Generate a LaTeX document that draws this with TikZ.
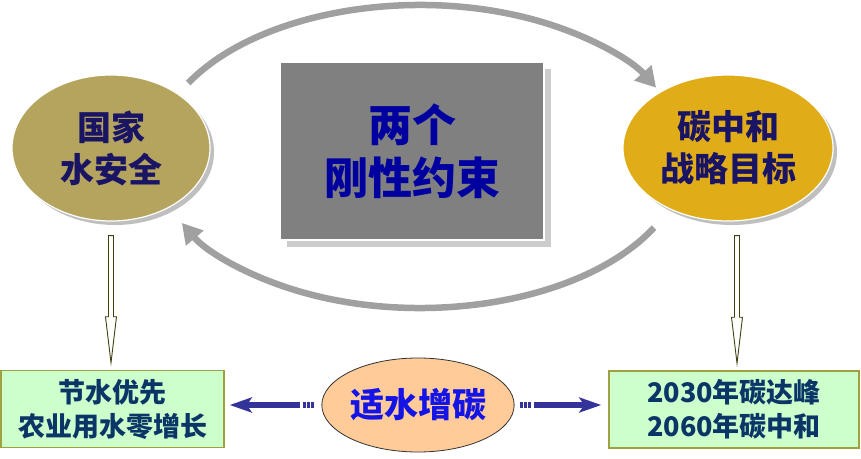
\documentclass[tikz,border=0pt]{standalone}
\usepackage{fontspec}
\setmainfont{Noto Sans CJK SC}
\usetikzlibrary{shapes.geometric,arrows.meta,positioning,calc,shadows}
\definecolor{tanolive}{HTML}{B4A45E}
\definecolor{tangold}{HTML}{E0AC18}
\definecolor{inknavy}{HTML}{1A1464}
\definecolor{inkblue}{HTML}{0000A0}
\definecolor{hubink}{HTML}{1414E6}
\definecolor{boxgreen}{HTML}{CCFFCC}
\definecolor{boxedge}{HTML}{A0A040}
\definecolor{boxink}{HTML}{0B3566}
\definecolor{peach}{HTML}{FFCC99}
\definecolor{arrowblue}{HTML}{333399}
\definecolor{ringgray}{HTML}{A0A0A0}
\definecolor{hollowedge}{HTML}{404010}

\begin{document}
\begin{tikzpicture}[x=1pt, y=1pt,
    goal/.style={ellipse, draw=white, line width=1.2pt, inner sep=0pt,
      minimum height=146pt, text=inknavy, align=center,
      font=\fontsize{34}{42}\selectfont\bfseries,
      drop shadow={shadow xshift=4pt, shadow yshift=-4pt, fill=black!25, opacity=1}},
    core/.style={rectangle, draw=white, line width=1.2pt, fill=black!50,
      minimum width=264pt, minimum height=178pt, text=inkblue, align=center,
      font=\fontsize{44}{53}\selectfont\bfseries,
      drop shadow={shadow xshift=7pt, shadow yshift=-7pt, fill=black!20, opacity=1}},
    target/.style={rectangle, draw=boxedge, line width=1.5pt, fill=boxgreen,
      minimum height=77pt, text=boxink, align=center, inner sep=0pt,
      font=\fontsize{27}{34}\selectfont\bfseries},
    hub/.style={ellipse, draw=black!80, line width=0.8pt, fill=peach,
      minimum width=190pt, minimum height=94pt, text=hubink, inner sep=0pt,
      font=\fontsize{34}{40}\selectfont\bfseries},
    cyc/.style={-{Triangle[length=20pt,width=22pt]}, line width=6.5pt, draw=ringgray},
    side/.style={-{Stealth[length=22pt,width=15pt,inset=5pt]}, line width=6pt, draw=arrowblue,
      dash pattern=on 3pt off 1.2pt on 3pt off 1.2pt on 3pt off 3pt on 400pt off 0pt},
    hollow/.style={draw=hollowedge, fill=white, line width=0.9pt, line join=miter}
  ]
    \useasboundingbox (0,0) rectangle (861,458);

    % ── Two constraints and the core box ─────────────────────
    \node[goal, fill=tanolive, minimum width=198pt] (guo)    at (111,310) {国家\\水安全};
    \node[goal, fill=tangold,  minimum width=210pt] (tan)    at (728,310) {碳中和\\战略目标};
    \node[core]                                     (yueshu) at (412,307) {两个\\刚性约束};

    % ── Bottom row ───────────────────────────────────────────
    \node[hub]                          (shi)     at (418,53)   {适水增碳};
    \node[target, minimum width=223pt]  (jieshui) at (112.5,49) {节水优先\\农业用水零增长};
    \node[target, minimum width=250pt]  (dafeng)  at (734,48.5) {2030年碳达峰\\2060年碳中和};

    % ── Ring of arrows round the core ────────────────────────
    \coordinate (ring) at (420,301.5);
    \draw[cyc] ($(ring)+(151:265 and 151.5)$)
               arc[start angle=151, end angle=27, x radius=265, y radius=151.5];
    \draw[cyc] ($(ring)+(-28:265 and 151.5)$)
               arc[start angle=-28, end angle=-154, x radius=265, y radius=151.5];

    % ── Hub out to both targets ──────────────────────────────
    \draw[side, shorten <=7pt, shorten >=5pt] (shi.west) -- (shi.west -| jieshui.east);
    \draw[side, shorten <=5pt, shorten >=7pt] (shi.east) -- (shi.east -| dafeng.west);

    % ── Hollow arrows down to the targets ────────────────────
    \coordinate (guo-top) at ($(guo.south)+(0,-14)$);
    \coordinate (guo-tip) at ($(guo.south |- jieshui.north)+(0,7)$);
    \coordinate (tan-top) at ($(tan.south)+(9,-14)$);
    \coordinate (tan-tip) at ($(tan-top |- dafeng.north)+(0,7)$);
    \foreach \a/\b in {guo-top/guo-tip, tan-top/tan-tip}
      \draw[hollow] ($(\a)+(-2.5,0)$) -- ($(\b)+(-2.5,46)$) -- ($(\b)+(-5.5,46)$)
                    -- (\b) -- ($(\b)+(5.5,46)$) -- ($(\b)+(2.5,46)$)
                    -- ($(\a)+(2.5,0)$) -- cycle;
\end{tikzpicture}
\end{document}
